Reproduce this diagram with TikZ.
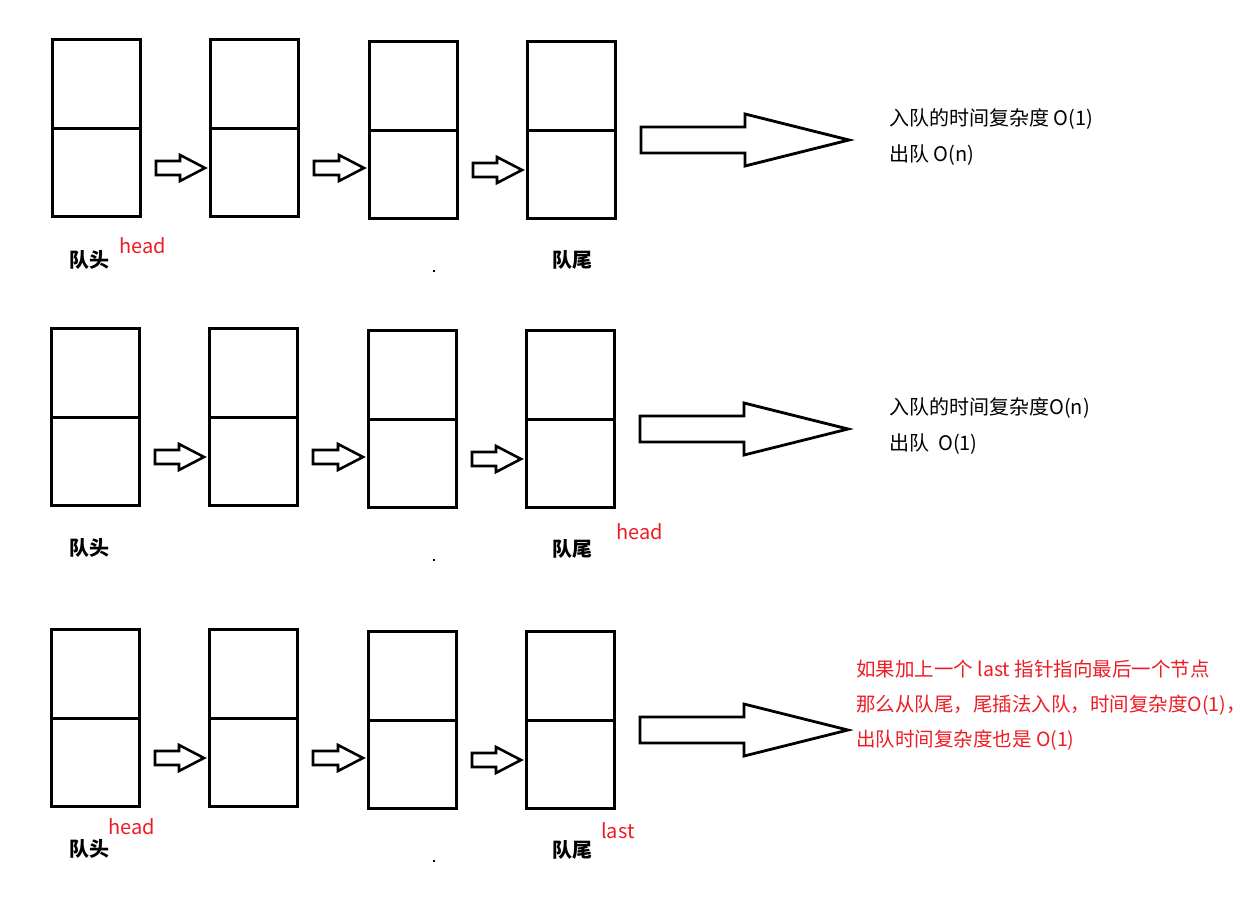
\documentclass[tikz,border=0pt]{standalone}
\usepackage{fontspec}
\setmainfont{Noto Sans CJK SC}
\usetikzlibrary{calc}
\definecolor{paintred}{RGB}{237,28,36}
\tikzset{
  cell/.style={draw,line width=3pt,minimum width=88pt,minimum height=177pt,inner sep=0pt},
  hollow/.style={line width=2.6pt,to path={let \p1=(\tikztostart.east),\p2=(\tikztotarget.west) in
    (\x1+14,\y1-33) -- (\x2-29,\y1-33) -- (\x2-29,\y1-27) -- (\x2-4,\y1-40)
    -- (\x2-29,\y1-53) -- (\x2-29,\y1-47) -- (\x1+14,\y1-47) -- cycle}},
  fat/.style={line width=2.8pt,to path={let \p1=(\tikztostart.east) in
    (\x1+24,\y1+3) -- (\x1+128,\y1+3) -- (\x1+128,\y1+16) -- (\x1+232,\y1-10)
    -- (\x1+128,\y1-36) -- (\x1+128,\y1-23) -- (\x1+24,\y1-23) -- cycle}},
  tag/.style={font=\fontsize{20}{24}\selectfont\bfseries,inner sep=0pt},
  ptr/.style={text=paintred,inner sep=0pt},
  note/.style={inner sep=0pt,anchor=west,align=left}
}
\begin{document}
\begin{tikzpicture}[x=1pt,y=-1pt,font=\fontsize{20}{36}\selectfont]
   \useasboundingbox (0,0) rectangle (1245,902);
   % first row: head at front
   \node[cell] (b11) at (96.5,128) {};
   \node[cell] (b12) at (254.5,128) {};
   \node[cell] (b13) at (413.5,130) {};
   \node[cell] (b14) at (571.5,130) {};
   \node[note] (t1) at (889,137) {入队的时间复杂度 O(1)\\出队 O(n)};
   \node[tag] (h1) at (89,260) {队头};
   \node[ptr] (p1) at (143,246) {head};
   \node[tag] (e1) at (572,260) {队尾};
   % second row: head at rear
   \node[cell] (b21) at (95.5,417) {};
   \node[cell] (b22) at (253.5,417) {};
   \node[cell] (b23) at (412.5,419) {};
   \node[cell] (b24) at (570.5,419) {};
   \node[note] (t2) at (889,426) {入队的时间复杂度O(n)\\出队\ \ O(1)};
   \node[tag] (h2) at (89,548) {队头};
   \node[tag] (e2) at (572,549) {队尾};
   \node[ptr] (p2) at (640,532) {head};
   % third row: head and last
   \node[cell] (b31) at (95.5,718) {};
   \node[cell] (b32) at (253.5,718) {};
   \node[cell] (b33) at (412.5,720) {};
   \node[cell] (b34) at (570.5,720) {};
   \node[note,text=paintred,font=\fontsize{19.5}{35}\selectfont] (t3) at (856,705)
     {如果加上一个 last 指针指向最后一个节点\\那么从队尾，尾插法入队，时间复杂度O(1)\makebox[0.3em][l]{，}\\出队时间复杂度也是 O(1)};
   \node[ptr] (p3) at (132,827) {head};
   \node[tag] (h3) at (89,849) {队头};
   \node[ptr] (q3) at (618,831) {last};
   \node[tag] (e3) at (572,850) {队尾};
   % split lines and arrows
   \foreach \r in {1,2,3}{
     \foreach \c in {1,2,3,4}
       \draw[line width=3pt] (b\r\c.west) -- (b\r\c.east);
     \draw[hollow] (b\r1) to (b\r2);
     \draw[hollow] (b\r2) to (b\r3);
     \draw[hollow] (b\r3) to (b\r4);
     \draw[fat] (b\r4) to (t\r);
   }
   \fill (433,270) rectangle ++(2,2);
   \fill (433,559) rectangle ++(2,2);
   \fill (433,860) rectangle ++(2,2);
 \end{tikzpicture}
\end{document}
